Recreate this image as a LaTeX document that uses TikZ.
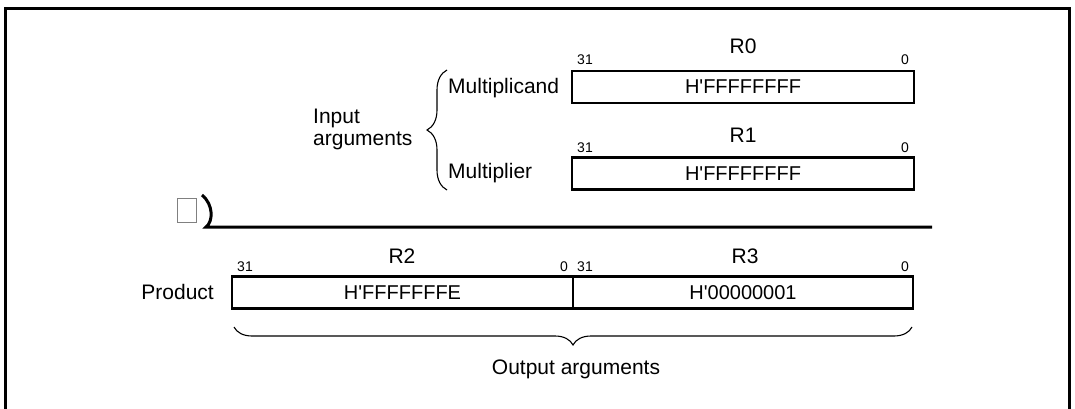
\documentclass[tikz,border=0pt]{standalone}
\usepackage{fontspec}
\setmainfont{Liberation Sans}
\usetikzlibrary{decorations.pathreplacing}
\begin{document}
\begin{tikzpicture}[x=1pt,y=-1pt,
    reg/.style={draw,line width=2.5pt,minimum height=32pt,inner sep=0pt,
      font=\fontsize{20}{24}\selectfont},
    lbl/.style={inner sep=0pt,font=\fontsize{21}{22}\selectfont},
    bit/.style={inner sep=0pt,font=\fontsize{14}{16}\selectfont},
    brc/.style={decorate,line width=1.1pt}]
  \useasboundingbox (0,0) rectangle (1075,409);
  \draw[line width=3pt] (5,409) -- (5,9) -- (1069,9) -- (1069,409);
  % input side
  \node[reg,minimum width=342pt] (r0) at (743,87) {H\textquotesingle FFFFFFFF};
  \node[reg,minimum width=342pt] (r1) at (743,173.5) {H\textquotesingle FFFFFFFF};
  \node[lbl] (n0) at (743,46) {R0};
  \node[lbl] (n1) at (743,135) {R1};
  \node[bit] (b0h) at (585,60) {31};
  \node[bit] (b0l) at (905,60) {0};
  \node[bit] (b1h) at (585,148) {31};
  \node[bit] (b1l) at (905,148) {0};
  \node[lbl,anchor=west] (mcand) at (448,88) {Multiplicand};
  \node[lbl,anchor=west] (mplier) at (448,173) {Multiplier};
  \node[lbl,anchor=west,align=left] (inarg) at (313,129) {Input\\arguments};
  \draw[brc,decoration={brace,amplitude=20pt}] (447,190) -- (447,70);
  % separator
  \node[draw=gray,line width=1pt,minimum width=19pt,minimum height=24pt,inner sep=0pt] (sq) at (186.5,210) {};
  \coordinate (p0) at (202,195);
  \coordinate (p1) at (206,227);
  \coordinate (p2) at (932,227);
  \draw[line width=3pt] (p0) .. controls (214,205) and (213,222) .. (p1) -- (p2);
  % output side
  \node[reg,minimum width=341pt] (r2) at (402.5,292.5) {H\textquotesingle FFFFFFFE};
  \node[reg,minimum width=340pt] (r3) at (743,292.5) {H\textquotesingle 00000001};
  \node[lbl] (n2) at (402,256) {R2};
  \node[lbl] (n3) at (745,256) {R3};
  \node[bit] (b2h) at (245,267) {31};
  \node[bit] (b2l) at (564,267) {0};
  \node[bit] (b3h) at (585,267) {31};
  \node[bit] (b3l) at (905,267) {0};
  \node[lbl,anchor=east] (prod) at (214,292) {Product};
  \draw[brc,decoration={brace,amplitude=18pt}] (912,327) -- (234,327);
  \node[lbl] (outarg) at (576,369) {Output arguments};
\end{tikzpicture}
\end{document}
